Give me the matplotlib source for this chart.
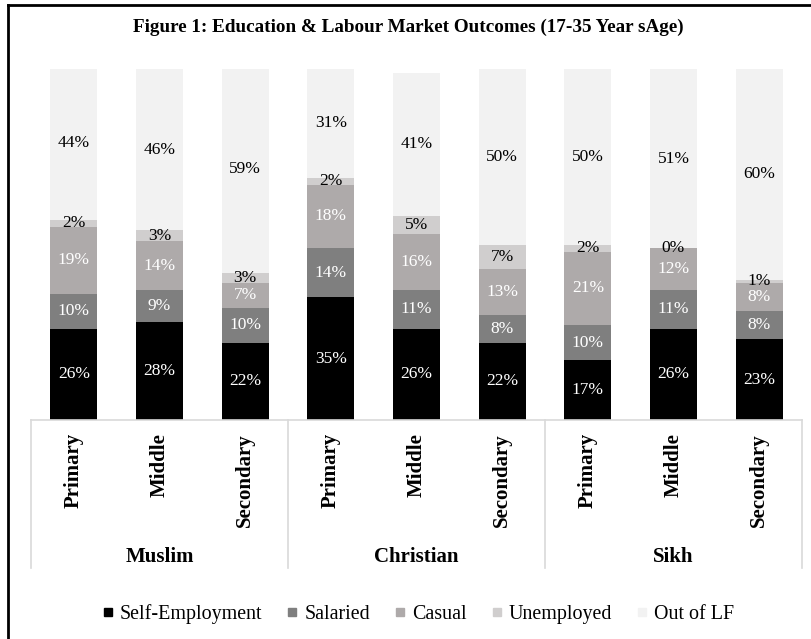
import numpy as np
import matplotlib
matplotlib.use("Agg")
import matplotlib.pyplot as plt
from matplotlib.lines import Line2D

plt.rcParams['font.family'] = ['Liberation Serif', 'DejaVu Serif']
SERIF = ['Liberation Serif', 'DejaVu Serif']

# data
religions = ['Muslim', 'Christian', 'Sikh']
levels = ['Primary', 'Middle', 'Secondary']
series = ['Self-Employment', 'Salaried', 'Casual', 'Unemployed', 'Out of LF']
self_emp = [26, 28, 22, 35, 26, 22, 17, 26, 23]
salaried = [10, 9, 10, 14, 11, 8, 10, 11, 8]
casual = [19, 14, 7, 18, 16, 13, 21, 12, 8]
unemployed = [2, 3, 3, 2, 5, 7, 2, 0, 1]
out_of_lf = [44, 46, 59, 31, 41, 50, 50, 51, 60]

colors = ['#000000', '#7f7f7f', '#aeaaaa', '#d0cece', '#f2f2f2']
text_colors = ['white', 'white', 'white', 'black', 'black']

values = [self_emp, salaried, casual, unemployed, out_of_lf]
n = len(self_emp)
x = np.arange(n)

fig = plt.figure(figsize=(8.12, 6.39), dpi=100)
ax = fig.add_axes([31 / 812, 1 - 420 / 639, 771 / 812, 351 / 639])

bottom = np.zeros(n)
for vals, col, tcol, name in zip(values, colors, text_colors, series):
    vals = np.array(vals, dtype=float)
    ax.bar(x, vals, width=0.55, bottom=bottom, color=col, label=name)
    for xi, b, v in zip(x, bottom, vals):
        ax.text(xi, b + v / 2, f'{int(v)}%', ha='center', va='center',
                color=tcol, fontsize=12.5, family=SERIF)
    bottom += vals

ax.set_xlim(-0.5, n - 0.5)
ax.set_ylim(0, 100)
for s in ax.spines.values():
    s.set_visible(False)
ax.set_yticks([])
ax.set_xticks([])

# multi-level category axis
trans = ax.get_xaxis_transform()
depth = (568 - 420) / 351
grid_col = '#d9d9d9'
ax.plot([-0.5, n - 0.5], [0, 0], color=grid_col, lw=1.2, transform=trans, clip_on=False)
for xs in [-0.5, 2.5, 5.5, 8.5]:
    ax.plot([xs, xs], [0, -depth], color=grid_col, lw=1.2, transform=trans, clip_on=False)

for i in range(n):
    ax.text(x[i], -13 / 351, levels[i % 3], rotation=90, ha='center', va='top',
            fontsize=15, fontweight='bold', family=SERIF, transform=trans)
for g, rel in enumerate(religions):
    ax.text(3 * g + 1, -(557 - 420) / 351, rel, ha='center', va='center',
            fontsize=15, fontweight='bold', family=SERIF, transform=trans)

fig.text(408 / 812, 1 - 27 / 639,
         'Figure 1: Education & Labour Market Outcomes (17-35 Year sAge)',
         ha='center', va='center', fontsize=13.8, fontweight='bold', family=SERIF)

handles = [Line2D([], [], marker='s', ls='', color=c, markersize=6) for c in colors]
fig.legend(handles, series, loc='center', bbox_to_anchor=(418 / 812, 1 - 614 / 639),
           ncol=5, frameon=False, prop={'family': SERIF, 'size': 14.4},
           handletextpad=0.3, columnspacing=1.2, handlelength=0.6)

# chart border (left and top visible)
fig.add_artist(Line2D([8 / 812, 8 / 812], [0, 1 - 5 / 639], color='black', lw=2,
                      transform=fig.transFigure))
fig.add_artist(Line2D([8 / 812, 1], [1 - 5 / 639, 1 - 5 / 639], color='black', lw=2,
                      transform=fig.transFigure))

fig.savefig('out.png', dpi=100)
